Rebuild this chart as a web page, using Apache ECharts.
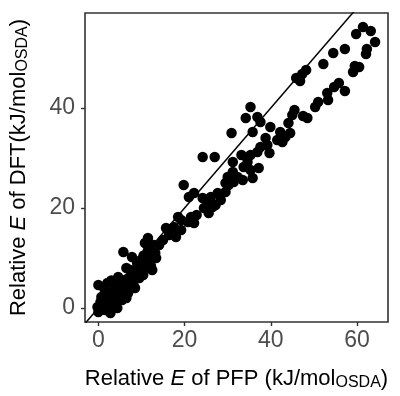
<!DOCTYPE html>
<html>
<head>
    <meta charset="utf-8">
    <title>PFP vs DFT</title>
    <script src="https://cdn.jsdelivr.net/npm/echarts@6/dist/echarts.min.js"></script>
</head>
<body style="margin:0">
    <div id="chart" style="width: 400px;height:396px;"></div>
    <script type="text/javascript">
        // relative energies, kJ/mol per OSDA
        var pfpValues = [
            61.4, 63.2, 59.8, 64.2, 62.3, 62.1, 59.5, 60.5, 59.1, 57.2,
            54.5, 52.2, 48.2, 47.3, 45.9, 46.8, 55.8, 54.7, 57.2, 53.1,
            53.3, 51.0, 50.3, 35.3, 45.5, 45.0, 47.5, 48.5, 44.1, 44.5,
            43.4, 42.2, 39.9, 41.5, 42.7, 38.8, 39.2, 37.6, 36.9, 35.3,
            34.2, 36.9, 37.6, 35.8, 30.9, 27.0, 24.2, 31.2, 34.6, 33.7,
            37.2, 35.3, 31.2, 30.0, 32.3, 33.5, 35.8, 29.5, 31.4, 39.7,
            30.2, 19.8, 21.0, 22.2, 24.2, 26.1, 27.7, 28.4, 29.5, 25.4,
            27.2, 24.5, 26.5, 25.6, 18.5, 19.2, 20.8, 22.2, 21.5, 17.5,
            19.2, 17.3, 18.0, 11.5, 12.9, 10.8, 5.8, 7.8, 9.0, 12.0,
            13.2, 9.9, 12.2, 10.4, 8.8, 7.4, 7.6, 4.6, 6.2, 5.8,
            0.0, 2.1, 3.9, 3.2, 0.5, -0.2, 1.6, 3.9, 5.5, 6.9,
            8.5, 10.4, 12.5, 2.8, 0.0, 2.3, 0.7, 4.8, 3.7, 1.8,
            3.0, 5.3, 7.2, 9.5, 11.1, 0.7, 4.4, 6.5, 8.1, 13.4,
            14.1, 15.0, 16.4, 15.7, 22.8, 33.2,
            1.5, 2.5, 4.5, 5.0, 6.0, 7.0, 8.0, 9.0, 10.0, 10.5,
            11.5, 12.0, 6.5, 3.0, 1.0, 2.0, 4.0
        ];
        var dftValues = [
            56.2, 55.4, 54.8, 53.2, 51.8, 50.8, 48.4, 48.2, 47.2, 51.8,
            51.0, 48.8, 47.6, 46.8, 46.0, 45.4, 45.0, 44.2, 43.4, 43.0,
            41.6, 41.2, 40.2, 40.2, 39.6, 38.6, 38.4, 38.0, 37.0, 35.0,
            34.2, 35.2, 36.2, 33.6, 33.2, 34.0, 32.6, 32.2, 31.2, 30.6,
            38.0, 38.2, 37.2, 35.2, 35.0, 30.2, 30.2, 29.2, 29.2, 28.2,
            28.0, 27.6, 27.2, 26.2, 26.2, 25.6, 26.0, 25.0, 25.2, 31.0,
            24.6, 24.6, 22.2, 23.0, 22.0, 22.2, 23.0, 21.6, 23.2, 21.0,
            20.6, 20.0, 20.2, 19.0, 18.2, 17.6, 17.2, 17.0, 18.2, 16.2,
            15.6, 15.0, 14.2, 14.0, 12.6, 13.0, 11.2, 10.2, 9.0, 9.2,
            11.0, 9.6, 8.4, 7.6, 7.2, 7.6, 6.2, 6.2, 5.6, 5.0,
            4.6, 5.0, 4.0, 2.8, 1.2, 0.2, -0.4, 1.0, 1.6, 3.0,
            4.0, 6.6, 7.6, -1.0, -0.8, 3.0, 2.2, 3.6, 3.6, 1.6,
            0.6, 2.6, 4.6, 6.0, 8.4, 0.4, 0.0, 2.0, 5.0, 10.0,
            12.6, 13.6, 14.6, 16.0, 18.6, 30.6,
            3.5, 1.5, 2.0, 4.5, 3.5, 6.0, 7.0, 8.0, 8.5, 10.5,
            11.5, 10.5, 8.0, 5.5, 1.0, 0.0, 0.5
        ];
        var xTicks = [0, 20, 40, 60];
        var yTicks = [0, 20, 40];

        var points = pfpValues.map(function (v, i) { return [v, dftValues[i]]; });

        var Chart = echarts.init(document.getElementById('chart'));
        var textFont = 'Liberation Sans';
        var richName = {
            it: { fontStyle: 'italic', fontSize: 22, color: '#000', fontFamily: textFont },
            sub: { fontSize: 16, color: '#000', fontFamily: textFont, padding: [8, 0, 0, 0] }
        };
        var option = {
            animation: false,
            grid: {
                left: 84, right: 12, top: 13, bottom: 74,
                show: true, borderColor: '#333', borderWidth: 1.6, backgroundColor: '#fff'
            },
            xAxis: {
                type: 'value', min: -3.1, max: 67.2,
                name: 'Relative {it|E} of PFP (kJ/mol{sub|OSDA})',
                nameLocation: 'middle', nameGap: 45,
                nameTextStyle: { fontSize: 22, color: '#000', fontFamily: textFont, rich: richName },
                axisLine: { show: false, onZero: false },
                splitLine: { show: false },
                axisTick: { show: true, length: 4, lineStyle: { color: '#333', width: 1.4 }, customValues: xTicks },
                axisLabel: { fontSize: 23, color: '#4d4d4d', fontFamily: textFont, margin: 7, customValues: xTicks }
            },
            yAxis: {
                type: 'value', min: -2.8, max: 59,
                name: 'Relative {it|E} of DFT(kJ/mol{sub|OSDA})',
                nameLocation: 'middle', nameGap: 54, nameRotate: 90,
                nameTextStyle: { fontSize: 22, color: '#000', fontFamily: textFont, rich: richName },
                axisLine: { show: false, onZero: false },
                splitLine: { show: false },
                axisTick: { show: true, length: 4, lineStyle: { color: '#333', width: 1.4 }, customValues: yTicks },
                axisLabel: { fontSize: 23, color: '#4d4d4d', fontFamily: textFont, margin: 10, customValues: yTicks }
            },
            series: [
                {
                    type: 'scatter',
                    data: points,
                    symbolSize: 10.5,
                    itemStyle: { color: '#000', opacity: 1 }
                },
                {
                    type: 'line',
                    data: [[-10, -10], [80, 80]],
                    symbol: 'none',
                    clip: true,
                    lineStyle: { color: '#000', width: 1.5 },
                    z: 3
                }
            ]
        };
        Chart.setOption(option);
    </script>
</body>
</html>
